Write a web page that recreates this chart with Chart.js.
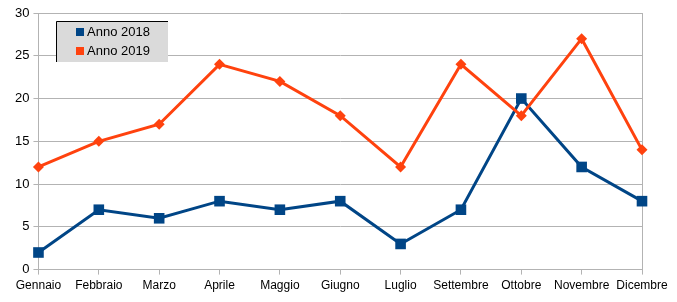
<!DOCTYPE html>
<html>
<head>
<meta charset="utf-8">
<script src="https://cdn.jsdelivr.net/npm/chart.js@4.4.0/dist/chart.umd.min.js"></script>
<style>
  html, body { margin: 0; padding: 0; background: #fff; }
  #wrap { width: 677px; height: 302px; }
</style>
</head>
<body>
<div id="wrap"><canvas id="chart1"></canvas></div>
<script>
var mesi = ["Gennaio", "Febbraio", "Marzo", "Aprile", "Maggio", "Giugno", "Luglio", "Settembre", "Ottobre", "Novembre", "Dicembre"];
var anno2018 = [2, 7, 6, 8, 7, 8, 3, 7, 20, 12, 8];
var anno2019 = [12, 15, 17, 24, 22, 18, 12, 24, 18, 27, 14];
var yTicks = [0, 5, 10, 15, 20, 25, 30];

var blu = "#004586";
var arancio = "#ff420e";

// riquadro legenda in stile LibreOffice + bordo destro dell'area
var legendaBox = {
    id: "legendaBox",
    beforeDatasetsDraw: function (chart) {
        var ctx = chart.ctx;
        var a = chart.chartArea;
        ctx.save();
        ctx.strokeStyle = "#b3b3b3";
        ctx.lineWidth = 1;
        ctx.beginPath();
        ctx.moveTo(Math.round(a.right) + 0.5, a.top);
        ctx.lineTo(Math.round(a.right) + 0.5, a.bottom);
        ctx.stroke();
        ctx.restore();
    },
    afterDraw: function (chart) {
        var ctx = chart.ctx;
        ctx.save();
        var x = 56, y = 21, w = 112, h = 41;
        ctx.fillStyle = "#dadada";
        ctx.fillRect(x, y, w, h);
        ctx.strokeStyle = "#000";
        ctx.lineWidth = 1;
        ctx.beginPath();
        ctx.moveTo(x + 0.5, y + h);
        ctx.lineTo(x + 0.5, y + 0.5);
        ctx.lineTo(x + w, y + 0.5);
        ctx.stroke();

        ctx.font = "13px 'Liberation Sans', Arial, sans-serif";
        ctx.textBaseline = "middle";
        chart.data.datasets.forEach(function (ds, i) {
            var cy = y + 11 + i * 19;
            ctx.fillStyle = ds.borderColor;
            ctx.fillRect(x + 20, cy - 4, 8, 8);
            ctx.fillStyle = "#000";
            ctx.fillText(ds.label, x + 31, cy);
        });
        ctx.restore();
    }
};

var chart1 = new Chart(document.getElementById("chart1").getContext("2d"), {
    type: "line",
    data: {
        labels: mesi,
        datasets: [
            {
                label: "Anno 2018",
                data: anno2018,
                borderColor: blu,
                backgroundColor: blu,
                borderWidth: 3,
                pointStyle: "rect",
                pointRadius: 7.5,
                pointBorderWidth: 0,
                tension: 0,
                clip: false,
                order: 1
            },
            {
                label: "Anno 2019",
                data: anno2019,
                borderColor: arancio,
                backgroundColor: arancio,
                borderWidth: 3,
                pointStyle: "rectRot",
                pointRadius: 5.5,
                pointBorderWidth: 0,
                tension: 0,
                clip: false,
                order: 0
            }
        ]
    },
    options: {
        responsive: true,
        maintainAspectRatio: false,
        animation: false,
        layout: { padding: { top: 13, left: 11, right: 35, bottom: 5 } },
        plugins: {
            legend: { display: false },
            tooltip: { enabled: false }
        },
        scales: {
            x: {
                offset: false,
                grid: { drawOnChartArea: false, drawTicks: true, tickLength: 5, color: "#b3b3b3" },
                border: { color: "#b3b3b3" },
                ticks: {
                    color: "#000",
                    autoSkip: false,
                    maxRotation: 0,
                    padding: 4,
                    font: { family: "'Liberation Sans', Arial, sans-serif", size: 12 }
                }
            },
            y: {
                min: 0,
                max: 30,
                afterBuildTicks: function (s) { s.ticks = yTicks.map(function (v) { return { value: v }; }); },
                grid: { color: "#b3b3b3", tickLength: 5 },
                border: { color: "#b3b3b3" },
                ticks: {
                    color: "#000",
                    padding: 4,
                    font: { family: "'Liberation Sans', Arial, sans-serif", size: 13 }
                }
            }
        }
    },
    plugins: [legendaBox]
});
</script>
</body>
</html>
